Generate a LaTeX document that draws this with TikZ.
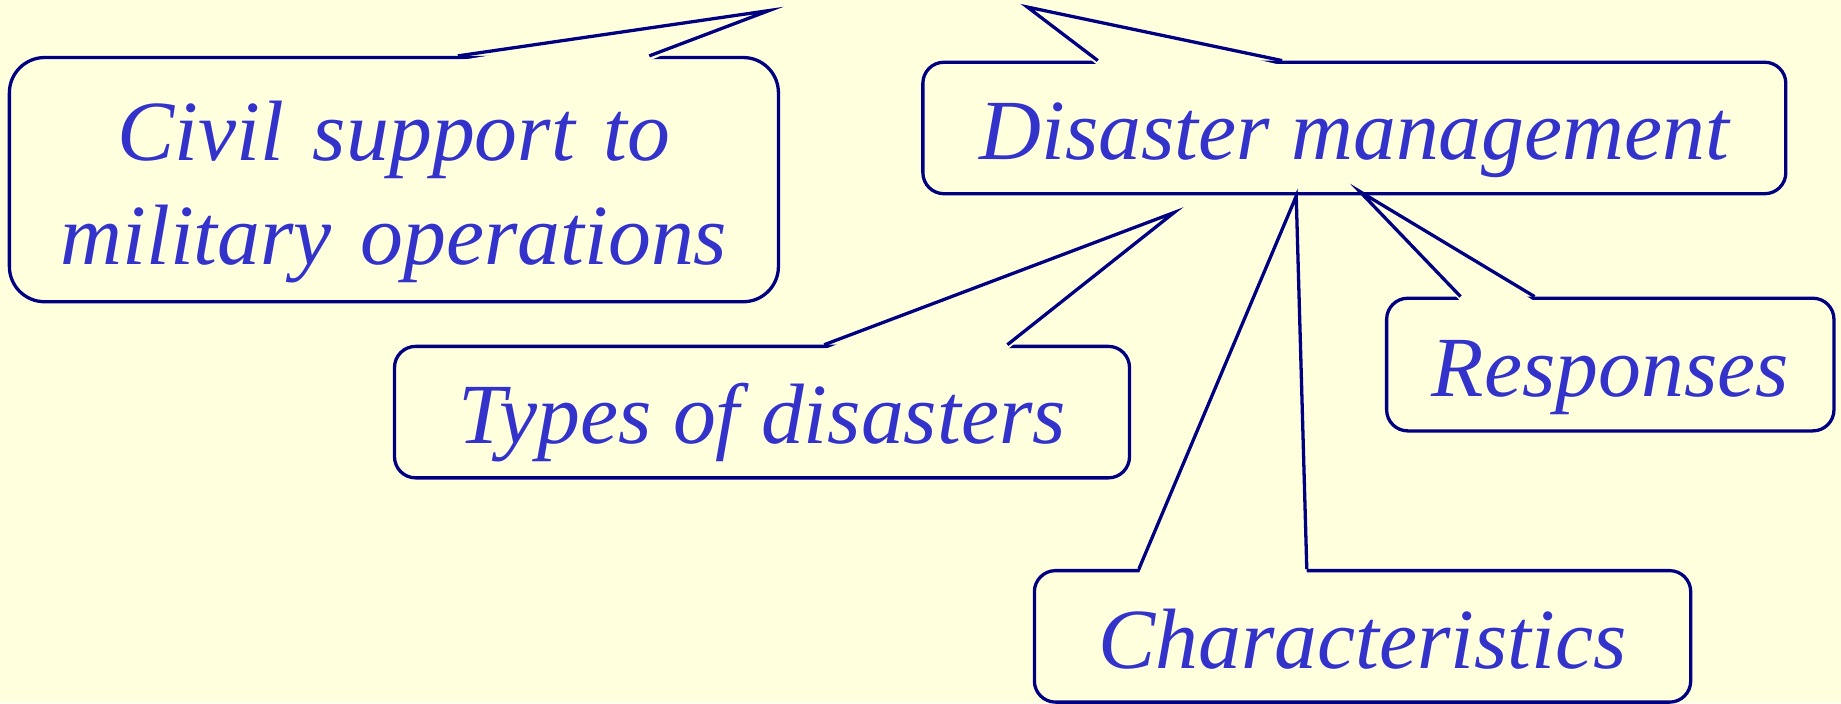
\documentclass[tikz,border=0pt]{standalone}
\usepackage{fontspec}
\setmainfont{Liberation Serif}
\newfontfamily\callfont{LiberationSerif}[Extension=.ttf, UprightFont=*-Italic, BoldFont=*-BoldItalic]
\definecolor{paper}{HTML}{FFFFDD}
\definecolor{ink}{HTML}{3333CC}
\definecolor{rim}{HTML}{000080}
\tikzset{
  callbox/.style={draw=rim, fill=paper, line width=1.4pt, rounded corners=9pt,
    inner sep=0pt, text=ink, font=\callfont\fontsize{36.5}{44}\selectfont,
    text height=27pt, text depth=0pt},
  tipline/.style={draw=rim, line width=1.4pt},
}
\begin{document}
\begin{tikzpicture}[x=0.5pt, y=-0.5pt]
    \fill[paper] (0,0) rectangle (1568,599);
    \useasboundingbox (0,0) rectangle (1568,599);

    % the five boxes
    \node [callbox, rounded corners=15pt, minimum width=327.5pt, minimum height=104pt,
        text width=300pt, align=center, text height=0pt, text depth=16pt]
        (civil) at (335.5,153) {Civil support to\\military operations};
    \node [callbox, minimum width=367.5pt, minimum height=56pt] (dm) at (1153.5,109) {Disaster management};
    \node [callbox, minimum width=313pt, minimum height=56pt] (types) at (649,351) {Types of disasters};
    \node [callbox, minimum width=190.5pt, minimum height=56.5pt] (resp) at (1371.5,310.5) {Responses};
    \node [callbox, minimum width=279.5pt, minimum height=56pt] (chars) at (1160.5,542) {Characteristics};

    % pointer tips and feet
    \coordinate (civil tip) at (655,9);
    \coordinate (civil l) at (390,0 |- civil.north);
    \coordinate (civil r) at (553,0 |- civil.north);
    \coordinate (dm tip) at (875,6);
    \coordinate (dm l) at (935,0 |- dm.north);
    \coordinate (dm r) at (1092,0 |- dm.north);
    \coordinate (types tip) at (1000,181);
    \coordinate (types l) at (702,0 |- types.north);
    \coordinate (types r) at (858,0 |- types.north);
    \coordinate (resp tip) at (1158,163);
    \coordinate (resp l) at (1244,0 |- resp.north);
    \coordinate (resp r) at (1307,0 |- resp.north);
    \coordinate (chars tip) at (1104,167);
    \coordinate (chars l) at (970,0 |- chars.north);
    \coordinate (chars r) at (1113,0 |- chars.north);

    % pointers: wipe the box edge, then draw the two sides
    \fill[paper] ([yshift=-2pt]civil l) -- (civil tip) -- ([yshift=-2pt]civil r) -- cycle;
    \draw[tipline] (civil l) -- (civil tip) -- (civil r);
    \fill[paper] ([yshift=-2pt]dm l) -- (dm tip) -- ([yshift=-2pt]dm r) -- cycle;
    \draw[tipline] (dm l) -- (dm tip) -- (dm r);
    \fill[paper] ([yshift=-2pt]types l) -- (types tip) -- ([yshift=-2pt]types r) -- cycle;
    \draw[tipline] (types l) -- (types tip) -- (types r);
    \fill[paper] ([yshift=-2pt]resp l) -- (resp tip) -- ([yshift=-2pt]resp r) -- cycle;
    \draw[tipline] (resp l) -- (resp tip) -- (resp r);
    \fill[paper] ([yshift=-2pt]chars l) -- (chars tip) -- ([yshift=-2pt]chars r) -- cycle;
    \draw[tipline] (chars l) -- (chars tip) -- (chars r);
\end{tikzpicture}
\end{document}
